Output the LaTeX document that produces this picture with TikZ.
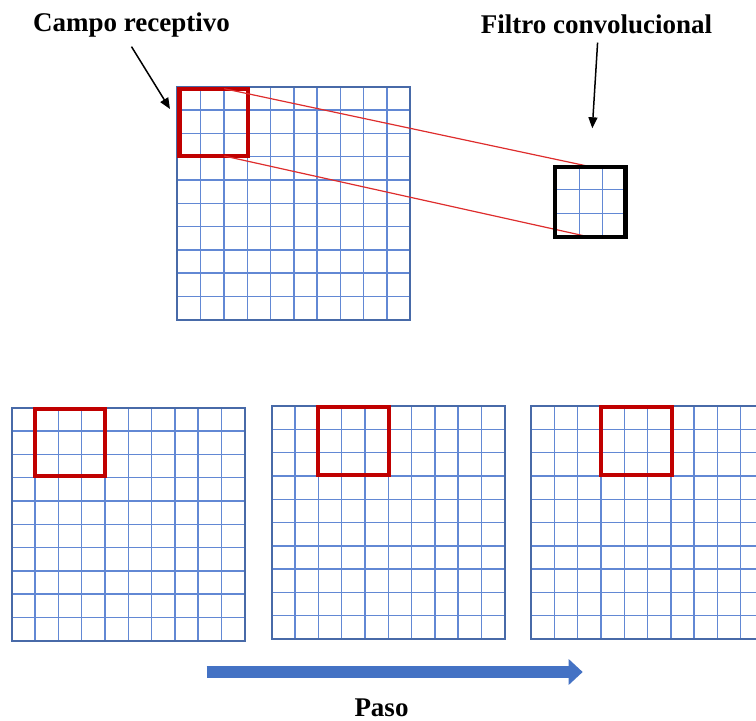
\documentclass[tikz,border=0pt]{standalone}
\usepackage{fontspec}
\setmainfont{Liberation Serif}
\usetikzlibrary{arrows.meta,calc}

\definecolor{gridblue}{RGB}{98,136,212}
\definecolor{gridedge}{RGB}{72,106,168}
\definecolor{fieldred}{RGB}{192,0,0}
\definecolor{linkred}{RGB}{222,45,45}
\definecolor{stepblue}{RGB}{68,114,196}

\tikzset{
  gridline/.style={draw=gridblue, line width=1.4pt},
  gridframe/.style={draw=gridedge, line width=1.8pt},
  fieldbox/.style={draw=fieldred, line width=4.2pt, inner sep=0pt, outer sep=0pt},
  filterbox/.style={draw=black, line width=4.2pt, inner sep=0pt, outer sep=0pt},
  linkline/.style={draw=linkred, line width=1.2pt},
  pointer/.style={draw=black, line width=1.5pt, -{Triangle[length=11pt,width=9pt]}},
  caption/.style={font=\bfseries\fontsize{27}{32}\selectfont, inner sep=0pt, anchor=base},
  stepline/.style={draw=stepblue, line width=12pt, -{Triangle[length=14pt,width=25pt]}},
  imgarea/.style={minimum size=233pt, inner sep=0pt, outer sep=0pt, anchor=north west}
}

% a 10 x 10 input image with its top-left corner at (#1,#2)
\newcommand\cnngrid[2]{%
  \foreach \k in {1,...,9} {
    \draw[gridline] ({#1+\k*23.3},#2) -- ++(0,233);
    \draw[gridline] (#1,{#2+\k*23.3}) -- ++(233,0);
  }
  \draw[gridframe] (#1,#2) rectangle ++(233,233);
}

\begin{document}
\begin{tikzpicture}[x=1pt,y=-1pt]
\useasboundingbox (0,0) rectangle (756,721);
\clip (0,0) rectangle (756,721);

% input image and its receptive field
\node[imgarea] (input) at (177.3,86.7) {};
\cnngrid{177.3}{86.7}

% convolution filter (3 x 3)
\draw[gridline] (579.3,166.7) -- (579.3,237.2);
\draw[gridline] (602.7,166.7) -- (602.7,237.2);
\draw[gridline] (555.3,189.3) -- (625.5,189.3);
\draw[gridline] (555.3,213.3) -- (625.5,213.3);

\coordinate (rfcenter) at (213.9,122.35);
\coordinate (filtcenter) at (590.4,201.95);

\node[fieldbox, minimum width=68.8pt, minimum height=67.3pt] (field) at (rfcenter) {};

% projections from the receptive field to the filter
\draw[linkline] ($(field.north west)!0.65!(field.north east)$) -- (590.4,166.7) coordinate (ftop);
\draw[linkline] ($(field.south west)!0.65!(field.south east)$) -- (590.4,237.2) coordinate (fbot);

\node[filterbox, minimum width=70.2pt, minimum height=70.5pt] (filter) at (filtcenter) {};

% labels with pointers
\node[caption] (campo) at (131.5,31.7) {Campo receptivo};
\node[caption] (filtro) at (596.6,33) {Filtro convolucional};
\coordinate (campotip) at (170,109);
\coordinate (filtrotip) at (592.3,128.3);
\draw[pointer] ($(campo.south)+(0,9)$) -- (campotip);
\draw[pointer] ($(filtro.south)+(1,9)$) -- (filtrotip);

% sliding the field across the image
\node[imgarea] (slide1) at (11.7,407.7) {};
\cnngrid{11.7}{407.7}
\node[fieldbox, minimum width=69.4pt, minimum height=67pt] (win1) at (70,442.8) {};

\node[imgarea] (slide2) at (271.7,406) {};
\cnngrid{271.7}{406}
\node[fieldbox, minimum width=71pt, minimum height=68.2pt] (win2) at (353.3,441.1) {};

\node[imgarea] (slide3) at (531,406) {};
\cnngrid{531}{406}
\node[fieldbox, minimum width=71pt, minimum height=68.3pt] (win3) at (636.2,441.15) {};

% stride arrow
\coordinate (stepstart) at (206.7,672);
\coordinate (stepend) at (582.7,672);
\draw[stepline] (stepstart) -- (stepend);
\node[caption] (paso) at (381.5,716) {Paso};
\end{tikzpicture}
\end{document}
